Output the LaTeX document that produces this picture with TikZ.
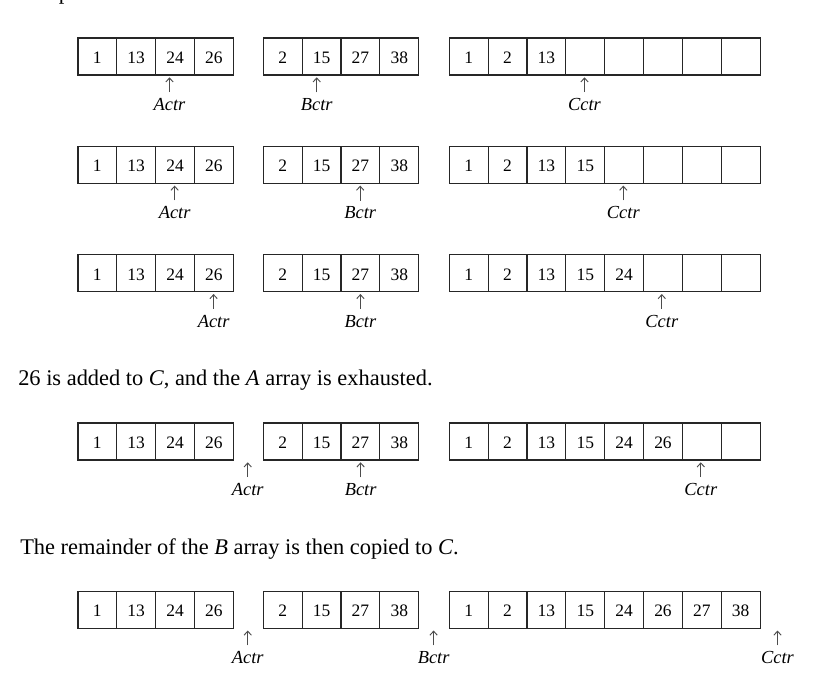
\documentclass[tikz,border=0pt]{standalone}
\usepackage{fontspec}
\setmainfont{Liberation Serif}
\usetikzlibrary{arrows.meta}
\tikzset{
  cell/.style={draw=black!85, line width=0.9pt, minimum width=29.14pt, minimum height=27.75pt,
    inner sep=0pt, anchor=north west, font=\fontsize{13.1pt}{15pt}\selectfont,
    text height=11pt, text depth=0.2pt},
  ptrlabel/.style={anchor=base, inner sep=0pt, font=\fontsize{13.8pt}{16pt}\selectfont\itshape},
  ptr/.style={draw=black!70, line width=0.7pt, shorten <=4.3pt,
    -{Straight Barb[length=3pt,width=5.5pt]}},
  prose/.style={anchor=base west, inner sep=0pt, font=\fontsize{16.8pt}{20pt}\selectfont},
}
\newcommand\arrcells[4]{%
  \foreach \v [count=\i] in {#4} {\node[cell] (#1\i) at ({#2+(\i-1)*38.85},#3) {\v};}}
\newcommand\pointer[4]{%
  \coordinate (#1t) at (#2,#3+3);
  \node[ptrlabel] (#1) at (#2,#3+36) {#4};
  \draw[ptr] (#1.north) -- (#1t);}
\begin{document}
\begin{tikzpicture}[x=0.75pt,y=-0.75pt]
\useasboundingbox (0,0) rectangle (820,676);
\clip (0,0) rectangle (820,676);
\fill[white] (0,0) rectangle (820,676);

\node[prose] (top) at (20,-0.5) {compared.};

% row 1
\arrcells{ra}{77.3}{37.3}{1,13,24,26}
\arrcells{rb}{262.7}{37.3}{2,15,27,38}
\arrcells{rc}{448.7}{37.3}{1,2,13,{},{},{},{},{}}
\pointer{pa}{169.5}{74.3}{Actr}
\pointer{pb}{316.7}{74.3}{Bctr}
\pointer{pc}{584.5}{74.3}{Cctr}

% row 2
\arrcells{sa}{77.3}{145.6}{1,13,24,26}
\arrcells{sb}{262.7}{145.6}{2,15,27,38}
\arrcells{sc}{448.7}{145.6}{1,2,13,15,{},{},{},{}}
\pointer{qa}{174.6}{182.6}{Actr}
\pointer{qb}{360.2}{182.6}{Bctr}
\pointer{qc}{623.3}{182.6}{Cctr}

% row 3
\arrcells{ta}{77.3}{254}{1,13,24,26}
\arrcells{tb}{262.7}{254}{2,15,27,38}
\arrcells{tc}{448.7}{254}{1,2,13,15,24,{},{},{}}
\pointer{ua}{213.6}{291}{Actr}
\pointer{ub}{360.4}{291}{Bctr}
\pointer{uc}{661.8}{291}{Cctr}

\node[prose] (t1) at (18,385) {26 is added to \textit{C}, and the \textit{A} array is exhausted.};

% row 4
\arrcells{va}{77.3}{422.3}{1,13,24,26}
\arrcells{vb}{262.7}{422.3}{2,15,27,38}
\arrcells{vc}{448.7}{422.3}{1,2,13,15,24,26,{},{}}
\pointer{wa}{247.7}{459.3}{Actr}
\pointer{wb}{360.6}{459.3}{Bctr}
\pointer{wc}{700.8}{459.3}{Cctr}

\node[prose] (t2) at (20,554) {The remainder of the \textit{B} array is then copied to \textit{C}.};

% row 5
\arrcells{xa}{77.3}{590.5}{1,13,24,26}
\arrcells{xb}{262.7}{590.5}{2,15,27,38}
\arrcells{xc}{448.7}{590.5}{1,2,13,15,24,26,27,38}
\pointer{ya}{247.7}{627.5}{Actr}
\pointer{yb}{433.6}{627.5}{Bctr}
\pointer{yc}{777.5}{627.5}{Cctr}
\end{tikzpicture}
\end{document}
